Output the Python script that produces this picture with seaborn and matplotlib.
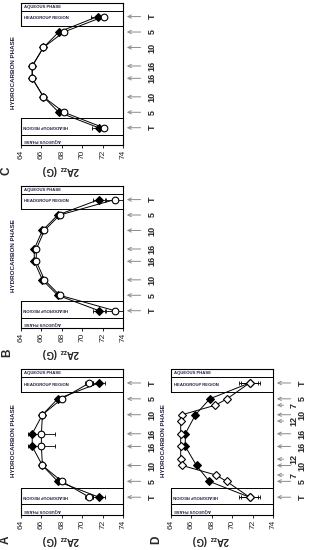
import numpy as np
import matplotlib
matplotlib.use("Agg")
import matplotlib.pyplot as plt
import matplotlib.transforms as mtrans
import seaborn as sns

sns.set_style("white")
plt.rcParams['font.family'] = ['Liberation Sans', 'DejaVu Sans']
plt.rcParams['mathtext.fontset'] = 'custom'
plt.rcParams['mathtext.rm'] = 'Liberation Sans'
plt.rcParams['mathtext.bf'] = 'Liberation Sans:bold'

# ---------------- data ----------------
pos8 = [0, 5, 10, 16, 20, 26, 31, 36]
labels8 = ["T", "5", "10", "16", "16", "10", "5", "T"]

pos12 = [0, 5, 7, 10, 12, 16, 20, 24, 26, 29, 31, 36]
labels12 = ["T", "5", "7", "10", "12", "16", "16", "12", "10", "7", "5", "T"]

A_filled = [71.65, 67.6, 66.1, 65.1, 65.1, 66.1, 67.6, 71.65]
A_filled_err = [0.6, 0, 0, 0, 0, 0, 0, 0.6]
A_open = [70.7, 68.0, 66.1, 66.0, 66.0, 66.1, 68.0, 70.7]
A_open_err = [0.4, 0, 0, 1.3, 1.3, 0, 0, 0.4]

B_filled = [71.65, 67.6, 66.1, 65.3, 65.3, 66.1, 67.6, 71.65]
B_filled_err = [0.6, 0, 0, 0, 0, 0, 0, 0.6]
B_open = [73.2, 67.8, 66.3, 65.5, 65.5, 66.3, 67.8, 73.2]
B_open_err = [0.9, 0, 0, 0, 0, 0, 0, 0.9]

C_filled = [71.5, 67.7, 66.2, 65.1, 65.1, 66.2, 67.7, 71.6]
C_filled_err = [0.6, 0, 0, 0, 0, 0, 0, 0.6]
C_open = [72.1, 68.2, 66.2, 65.1, 65.1, 66.2, 68.2, 72.1]
C_open_err = [0, 0, 0, 0, 0, 0, 0, 0]

D_filled = [71.7, 67.8, 66.4, 65.4, 65.4, 66.5, 67.75, 71.7]
D_filled_err = [1.0, 0, 0, 0, 0, 0, 0, 1.0]
D_open = [71.7, 69.5, 68.35, 65.1, 64.95, 64.95, 64.95, 64.95, 65.1, 68.4, 69.45, 71.7]
D_open_err = [0.8, 0, 0, 0, 0, 0, 0, 0, 0, 0, 0, 0.8]

xticks = [64, 66, 68, 70, 72, 74]

# ---------------- layout ----------------
W, H = 309, 550
fig = plt.figure(figsize=(W / 100, H / 100), dpi=100)


def rect(x0, y0, x1, y1):
    return [x0 / W, 1 - y1 / H, (x1 - x0) / W, (y1 - y0) / H]


YTOP, YBOT = -4.4, 41.6
LINES = [-1.9, 3.0, 33.0, 38.2]


def panel(r, fpos, fvals, ferr, opos, ovals, oerr, open_marker, labpos, labs,
          letter, letter_xy, shifted=()):
    ax = fig.add_axes(rect(*r))
    ax.set_xlim(64, 74)
    ax.set_ylim(YBOT, YTOP)
    ax.spines["left"].set_visible(False)
    for s in ["top", "right", "bottom"]:
        ax.spines[s].set_linewidth(0.8)
        ax.spines[s].set_color("black")
    ax.plot([64, 64], [YTOP, LINES[1]], color="black", lw=0.8, clip_on=False)
    ax.plot([64, 64], [LINES[2], YBOT], color="black", lw=0.8, clip_on=False)
    for yl in LINES:
        ax.axhline(yl, color="black", lw=0.7)
    ax.set_xticks(xticks)
    ax.set_xticklabels([str(t) for t in xticks])
    ax.set_yticks([])
    ax.tick_params(axis="x", labelrotation=90, labelsize=6, length=2.5,
                   width=0.7, pad=1, direction="out", bottom=True)

    fe = np.array(ferr); fv = np.array(fvals); fp = np.array(fpos)
    m = fe > 0
    ax.errorbar(fv[m], fp[m], xerr=fe[m], fmt="none", ecolor="black",
                elinewidth=0.6, capsize=1.6, capthick=0.6, zorder=2)
    oe = np.array(oerr); ov = np.array(ovals); op = np.array(opos)
    m = oe > 0
    ax.errorbar(ov[m], op[m], xerr=oe[m], fmt="none", ecolor="black",
                elinewidth=0.6, capsize=1.6, capthick=0.6, zorder=2)

    sns.lineplot(x=fvals, y=fpos, sort=False, estimator=None, ax=ax,
                 color="black", lw=0.7, marker="D", markersize=3.8,
                 markerfacecolor="black", markeredgecolor="black", zorder=3)
    sns.lineplot(x=ovals, y=opos, sort=False, estimator=None, ax=ax,
                 color="black", lw=0.7, marker=open_marker,
                 markersize=4.8 if open_marker == "o" else 4.2,
                 markerfacecolor="white", markeredgecolor="black",
                 markeredgewidth=0.8, zorder=4)
    ax.set_xlim(64, 74)
    ax.set_ylim(YBOT, YTOP)
    ax.set_xlabel("")
    ax.set_ylabel("")

    kw = dict(fontsize=3.1, fontweight="bold", va="center", ha="left",
              color="#202040")
    ax.text(64.25, (YTOP + LINES[0]) / 2, "AQUEOUS PHASE", **kw)
    ax.text(64.25, (LINES[0] + LINES[1]) / 2, "HEADGROUP REGION", **kw)
    ax.text(64.25, (LINES[2] + LINES[3]) / 2, "HEADGROUP REGION",
            rotation=180, **kw)
    ax.text(64.25, (LINES[3] + YBOT) / 2, "AQUEOUS PHASE", rotation=180, **kw)

    tr = mtrans.blended_transform_factory(ax.transAxes, ax.transData)
    ax.text(-0.075, 18, "HYDROCARBON PHASE", transform=tr, rotation=90,
            ha="center", va="center", fontsize=4.5, fontweight="bold",
            color="#202040")

    for p, l in zip(labpos, labs):
        sh = l in shifted and 0 < p < 36
        tail = 1.13 if sh else 1.2
        lx = 1.21 if sh else 1.285
        ax.annotate("", xy=(1.01, p), xytext=(tail, p), xycoords=tr,
                    textcoords=tr,
                    arrowprops=dict(arrowstyle="->,head_length=0.25,head_width=0.12",
                                    color="#8a8a8a", lw=0.7),
                    annotation_clip=False)
        ax.text(lx, p, l, transform=tr, rotation=90, ha="center",
                va="center", fontsize=6.5, fontweight="bold")

    x0, y0, x1, y1 = r
    fig.text((x0 + 40) / W, 1 - (y1 + 25) / H, r"2A$_{\mathbf{zz}}$ (G)",
             rotation=180, ha="center", va="center", fontsize=7,
             fontweight="bold")
    fig.text(letter_xy[0] / W, 1 - letter_xy[1] / H, letter, rotation=90,
             ha="center", va="center", fontsize=8.5, fontweight="bold")
    return ax


panel((21, 3, 123, 145), pos8, C_filled, C_filled_err, pos8, C_open,
      C_open_err, "o", pos8, labels8, "C", (7, 171))
panel((21, 186, 123, 328), pos8, B_filled, B_filled_err, pos8, B_open,
      B_open_err, "o", pos8, labels8, "B", (7, 353))
panel((21, 369, 123, 515), pos8, A_filled, A_filled_err, pos8, A_open,
      A_open_err, "o", pos8, labels8, "A", (6, 540))
panel((171, 369, 273, 515), pos8, D_filled, D_filled_err, pos12, D_open,
      D_open_err, "D", pos12, labels12, "D", (156, 540), shifted=("7", "12"))

fig.savefig("out.png", dpi=100)
